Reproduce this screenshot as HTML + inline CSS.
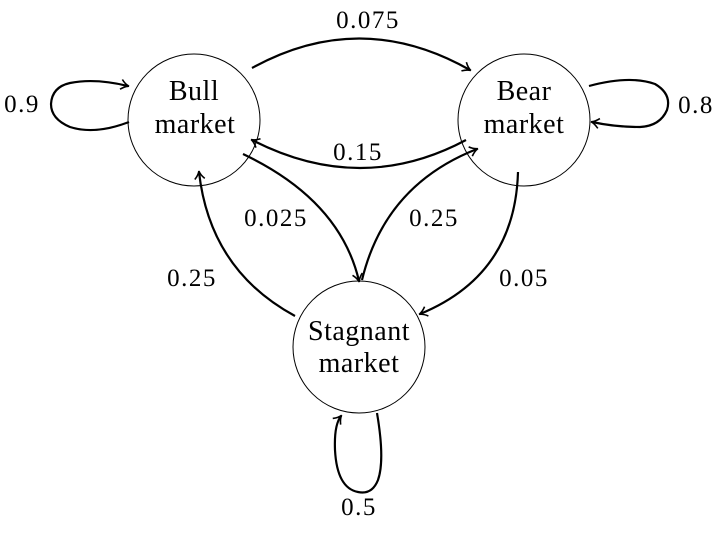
<!DOCTYPE html>
<html><head><style>
body{margin:0;background:#fff}
svg{display:block}
text{font-family:"Liberation Serif",serif;fill:#000}
</style></head><body>
<svg width="720" height="541" viewBox="0 0 720 541" xmlns="http://www.w3.org/2000/svg">
<defs>
<marker id="a" markerWidth="12" markerHeight="12" refX="9" refY="6" orient="auto" markerUnits="userSpaceOnUse">
<path d="M2,1 Q6,5 10,6 Q6,7 2,11" fill="none" stroke="#000" stroke-width="1.6"/>
</marker>
</defs>
<g fill="none" stroke="#000" stroke-width="1">
<circle cx="194" cy="120" r="66"/>
<circle cx="524" cy="120" r="66"/>
<circle cx="359" cy="347" r="66"/>
</g>
<g fill="none" stroke="#000" stroke-width="2.2" marker-end="url(#a)">
<path d="M252,68 Q361,8 470,70"/>
<path d="M466,140 Q361,196 252,140"/>
<path d="M129,122 Q95,135 70,127 Q51,119 51,104 Q52,87 70,83 Q95,78 128,86"/>
<path d="M589,86 Q630,75 655,84 Q672,94 667,110 Q660,126 640,127 Q615,127 592,122"/>
<path d="M243,154 Q340,200 359,281"/>
<path d="M362,280 Q385,185 477,149"/>
<path d="M295,316 Q210,270 199,172"/>
<path d="M518,172 Q515,275 420,314"/>
<path d="M377,413 Q385,460 378,480 Q372,495 358,492 Q337,488 335,450 Q334,425 341,416"/>
</g>
<g font-size="28" text-anchor="middle" letter-spacing="0.5">
<text x="194" y="100">Bull</text>
<text x="195" y="133">market</text>
<text x="524" y="100">Bear</text>
<text x="524" y="133">market</text>
<text x="359" y="340">Stagnant</text>
<text x="359" y="372">market</text>
</g>
<g font-size="25" text-anchor="middle" letter-spacing="1.5">
<text x="368" y="28">0.075</text>
<text x="358" y="160">0.15</text>
<text x="22" y="112">0.9</text>
<text x="696" y="113">0.8</text>
<text x="276" y="226">0.025</text>
<text x="434" y="226">0.25</text>
<text x="192" y="286">0.25</text>
<text x="524" y="286">0.05</text>
<text x="359" y="515">0.5</text>
</g>
</svg>
</body></html>
